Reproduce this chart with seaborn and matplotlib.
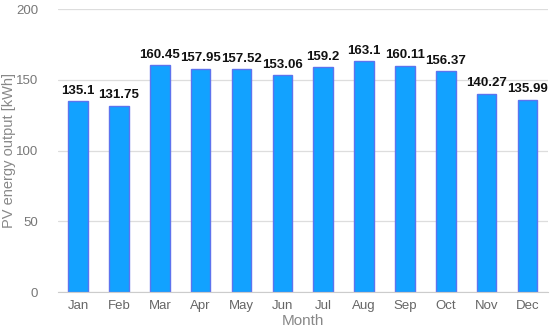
import matplotlib
matplotlib.use("Agg")
import matplotlib.pyplot as plt
import numpy as np
import pandas as pd
import seaborn as sns

months = ['Jan', 'Feb', 'Mar', 'Apr', 'May', 'Jun', 'Jul', 'Aug', 'Sep', 'Oct', 'Nov', 'Dec']
energy = [135.1, 131.75, 160.45, 157.95, 157.52, 153.06, 159.2, 163.1, 160.11, 156.37, 140.27, 135.99]
labels = ['135.1', '131.75', '160.45', '157.95', '157.52', '153.06', '159.2', '163.1', '160.11', '156.37', '140.27', '135.99']

df = pd.DataFrame({'Month': months, 'Energy': energy})

sns.set_style('white')
plt.rcParams['font.family'] = ['Liberation Sans', 'DejaVu Sans']

fig = plt.figure(figsize=(5.5, 3.35), dpi=100)
ax = fig.add_axes([0.105, 0.128, 0.891, 0.845])

sns.barplot(data=df, x='Month', y='Energy', color='#12a2ff', width=0.48,
            edgecolor='#5d74ee', linewidth=1.0, saturation=1, ax=ax)

for i, (v, t) in enumerate(zip(energy, labels)):
    ax.text(i, v + 3, t, ha='center', va='bottom', fontsize=9.5,
            fontweight='bold', color='#111111')

ax.set_ylim(0, 200)
ax.set_xlim(-0.5, 11.5)
ax.set_yticks([0, 50, 100, 150, 200])
ax.yaxis.grid(True, color='#dddddd', linewidth=0.9)
ax.set_axisbelow(True)
for s in ['top', 'right', 'left']:
    ax.spines[s].set_visible(False)
ax.spines['bottom'].set_color('#cccccc')

ax.set_xticks(np.arange(len(months)))
ax.set_xticklabels(months)
ax.set_xticks(np.arange(len(months) + 1) - 0.5, minor=True)
ax.tick_params(axis='x', which='major', length=0, pad=6, labelsize=9.5, labelcolor='#666666')
ax.tick_params(axis='x', which='minor', length=5, color='#cccccc')
ax.tick_params(axis='y', length=0, pad=14, labelsize=9.5, labelcolor='#777777')

ax.set_xlabel('Month', color='#888888', fontsize=11, labelpad=1)
ax.set_ylabel('PV energy output [kWh]', color='#888888', fontsize=10.5)
ax.yaxis.set_label_coords(-0.085, 0.5)

fig.savefig('out.png', dpi=100)
